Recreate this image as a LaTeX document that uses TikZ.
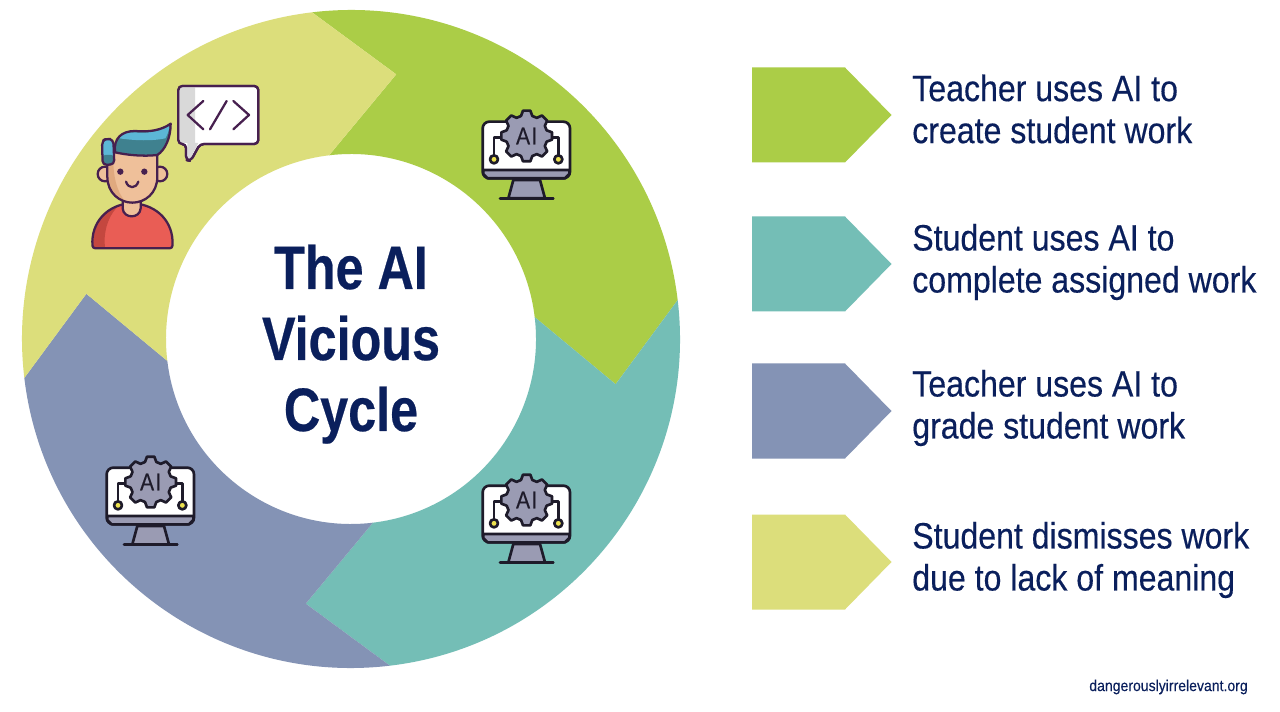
\documentclass[tikz,border=0pt]{standalone}
\usepackage{fontspec}
\usetikzlibrary{calc}
\setmainfont{Liberation Sans}[FakeStretch=0.875,FakeBold=0.35]
\newfontfamily\webfont{Liberation Sans}[FakeStretch=0.9,FakeBold=0.2]
\newfontfamily\titlefont{Liberation Sans Bold}[FakeStretch=0.82,FakeBold=0.4]
\definecolor{cgreen}{HTML}{ABCD47}
\definecolor{cteal}{HTML}{74BEB6}
\definecolor{cblue}{HTML}{8493B5}
\definecolor{cyellow}{HTML}{DCDE7B}
\definecolor{navy}{HTML}{0A1F5C}
\definecolor{ink}{HTML}{1E1B2A}
\definecolor{plum}{HTML}{47204F}
\definecolor{gearg}{HTML}{9A9BB3}
\definecolor{tan}{HTML}{EFC09A}
\definecolor{tand}{HTML}{E0A97F}
\definecolor{hairt}{HTML}{3F818F}
\definecolor{hairb}{HTML}{5CB7D6}
\definecolor{shirt}{HTML}{E95D55}
\definecolor{shirtd}{HTML}{C4473F}
\definecolor{dotc}{HTML}{EDE24F}
\tikzset{
  seg/.style={fill=#1,draw=none},
  legendtext/.style={anchor=west,align=left,text=navy,font=\fontsize{27.5}{31.5}\selectfont,inner sep=0pt},
  titletext/.style={anchor=base,text=navy,inner sep=0pt,font=\titlefont\fontsize{46}{53}\selectfont},
  icoline/.style={draw=ink,line width=2pt,line cap=round,line join=round},
  plumline/.style={draw=plum,line width=1.7pt,line cap=round,line join=round},
  aiicon/.pic={
    \path[icoline,fill=gearg] (130,240) -- (210,240) -- (225,295) -- (115,295) -- cycle;
    \path[icoline,fill=white,rounded corners=5pt] (38,65) rectangle (300,235);
    \path[icoline,fill=gearg] (40,210) -- (298,210) -- (298,222) -- (285,235) -- (53,235) -- (40,222) -- cycle;
    \path[icoline] (90,295) -- (250,295);
    \path[icoline] (72,165) -- (72,112) -- (105,112);
    \path[icoline] (265,165) -- (265,112) -- (235,112);
    \path[icoline,fill=dotc] (72,178) circle[radius=12];
    \path[icoline,fill=dotc] (265,178) circle[radius=12];
    \path[icoline,fill=gearg]
      (230,91)
      \foreach \a in {0,45,...,315} {
        -- ({170+60*cos(\a)+17*sin(\a)},{108+60*sin(\a)-17*cos(\a)})
        -- ({170+76*cos(\a)+11*sin(\a)},{108+76*sin(\a)-11*cos(\a)})
        -- ({170+76*cos(\a)-11*sin(\a)},{108+76*sin(\a)+11*cos(\a)})
        -- ({170+60*cos(\a)-17*sin(\a)},{108+60*sin(\a)+17*cos(\a)})
      } -- cycle;
    \node[text=ink,inner sep=0pt,font=\fontsize{18}{18}\selectfont] at (170,108) {A\kern1pt I};
  }
}
\begin{document}
\begin{tikzpicture}[x=0.75pt,y=-0.75pt]
\useasboundingbox (0,0) rectangle (1280,712);
\fill[white] (0,0) rectangle (1280,712);
\coordinate (ctr) at (351,339);
\foreach \k/\c in {0/cgreen,90/cteal,180/cblue,270/cyellow}{
  \pgfmathsetmacro{\sa}{-96.8+\k}
  \pgfmathsetmacro{\ea}{-6.8+\k}
  \pgfmathsetmacro{\ta}{-80.3+\k}
  \pgfmathsetmacro{\tb}{9.7+\k}
  \fill[seg=\c] (ctr) ++(\sa:329) arc[start angle=\sa,end angle=\ea,radius=329]
     -- ($(ctr)+(\tb:268.5)$) -- ($(ctr)+(\ea:185)$)
     arc[start angle=\ea,end angle=\sa,radius=185]
     -- ($(ctr)+(\ta:268.5)$) -- cycle;
}
\node[titletext] (t1) at (351,289) {The AI};
\node[titletext] (t2) at (351,360) {Vicious};
\node[titletext] (t3) at (351,431) {Cycle};
\foreach \n/\y/\c in {a/115/cgreen,b/264/cteal,c/411/cblue,d/562/cyellow}{
  \fill[seg=\c] (752,\y-47.5) -- (845,\y-47.5) -- (891.5,\y) -- (845,\y+47.5) -- (752,\y+47.5) -- cycle;
}
\node[legendtext] (l1) at (912,109) {Teacher uses AI to\\create student work};
\node[legendtext] (l2) at (912,262) {Student uses AI to\\complete assigned work};
\node[legendtext] (l3) at (912,408) {Teacher uses AI to\\grade student work};
\node[legendtext] (l4) at (912,560) {Student dismisses work\\due to lack of meaning};
\node[anchor=east,text=navy,inner sep=0pt,font=\webfont\fontsize{11.7}{13}\selectfont] (web) at (1248,687) {dangerouslyirrelevant.org};
\begin{scope}[shift={(470,100)},x=0.25pt,y=-0.25pt] \pic {aiicon}; \end{scope}
\begin{scope}[shift={(470,464)},x=0.25pt,y=-0.25pt] \pic {aiicon}; \end{scope}
\begin{scope}[shift={(94,446)},x=0.25pt,y=-0.25pt] \pic {aiicon}; \end{scope}
\begin{scope}[shift={(80,75)},x=0.25pt,y=-0.25pt]
  \path[plumline,fill=white,rounded corners=3pt] (295,33) -- (535,33) -- (535,207) -- (360,207) -- (332,258) -- (318,255) -- (318,207) -- (295,207) -- cycle;
  \fill[black!15] (298,36) -- (345,36) -- (345,204) -- (355,204) -- (332,250) -- (322,250) -- (322,204) -- (298,204) -- cycle;
  \path[plumline,rounded corners=3pt] (295,33) -- (535,33) -- (535,207) -- (360,207) -- (332,258) -- (318,255) -- (318,207) -- (295,207) -- cycle;
  \path[plumline] (370,78) -- (323,120) -- (370,163);
  \path[plumline] (440,78) -- (390,163);
  \path[plumline] (460,78) -- (507,120) -- (460,163);
  \path[fill=shirt] (38,520) .. controls (32,440) and (85,390) .. (155,385) .. controls (230,390) and (282,440) .. (277,520) -- cycle;
  \fill[shirtd] (41,517) .. controls (36,450) and (70,410) .. (110,398) .. controls (80,430) and (70,480) .. (75,517) -- cycle;
  \path[plumline,rounded corners=2pt] (38,520) .. controls (32,440) and (85,390) .. (155,385) .. controls (230,390) and (282,440) .. (277,520) -- cycle;
  \path[plumline,fill=tan] (128,375) -- (128,400) .. controls (130,432) and (180,432) .. (182,400) -- (182,375);
  \path[plumline,fill=tan] (75,297) circle[radius=22];
  \path[plumline,fill=tan] (240,297) circle[radius=22];
  \path[fill=tan] (82,225) -- (232,225) -- (232,305) .. controls (232,355) and (195,383) .. (157,383) .. controls (120,383) and (82,355) .. (82,305) -- cycle;
  \fill[tand] (85,240) -- (100,240) .. controls (98,300) and (110,350) .. (135,378) .. controls (105,370) and (85,340) .. (85,305) -- cycle;
  \path[plumline] (82,225) -- (232,225) -- (232,305) .. controls (232,355) and (195,383) .. (157,383) .. controls (120,383) and (82,355) .. (82,305) -- cycle;
  \fill[plum] (121,290) circle[radius=9.5];
  \fill[plum] (193,290) circle[radius=9.5];
  \path[plumline] (138,320) .. controls (145,342) and (168,342) .. (175,320);
  \path[fill=hairt] (105,232) .. controls (100,190) and (125,168) .. (165,168) .. controls (210,172) and (245,165) .. (272,146) .. controls (272,190) and (255,225) .. (232,240) .. controls (190,245) and (140,240) .. (105,232) -- cycle;
  \fill[hairb] (118,190) .. controls (128,172) and (150,172) .. (165,172) .. controls (205,176) and (245,168) .. (268,152) .. controls (268,165) and (262,180) .. (256,190) .. controls (210,200) and (150,195) .. (118,190) -- cycle;
  \path[plumline] (105,232) .. controls (100,190) and (125,168) .. (165,168) .. controls (210,172) and (245,165) .. (272,146) .. controls (272,190) and (255,225) .. (232,240) .. controls (190,245) and (140,240) .. (105,232) -- cycle;
  \path[fill=hairb,rounded corners=3pt] (66,198) -- (80,190) -- (100,194) -- (103,268) -- (68,270) -- cycle;
  \fill[hairt,rounded corners=2pt] (68,240) -- (102,240) -- (103,267) -- (69,268) -- cycle;
  \path[plumline,rounded corners=3pt] (66,198) -- (80,190) -- (100,194) -- (103,268) -- (68,270) -- cycle;
\end{scope}
\end{tikzpicture}
\end{document}
